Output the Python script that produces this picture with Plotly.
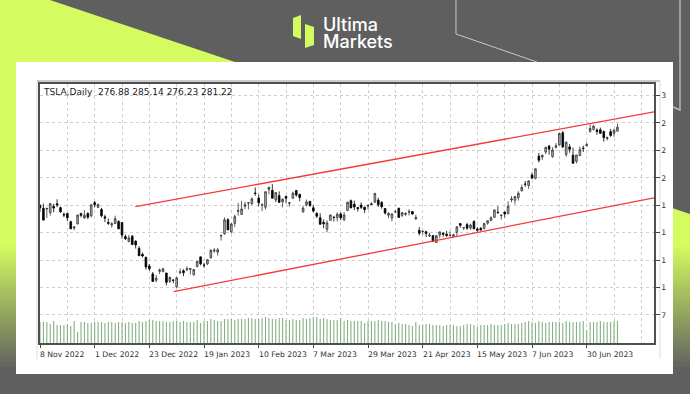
import numpy as np
import plotly.graph_objects as go

# --- data ---
opens = [194.02,190.78,189.9,186,192.77,195.88,191.51,183.96,185.05,175.85,168.63,173.57,185.06,179.96,184.99,182.43,
197.08,191.78,189.44,181.22,175.03,172.2,173.84,176.1,174.87,159.25,153.44,159.64,154,146.05,139.34,136,126.37,
117.5,110.35,120.39,119.95,118.47,109.11,110.51,103,118.96,121.07,122.09,122.56,116.55,125.7,136.56,127.26,
128.68,135.87,143,141.91,159.97,162.43,178.05,164.57,173.89,187.33,183.95,193.01,196.43,196.1,207.78,202.23,
194.42,191.94,211.76,210.78,199.99,204.99,197.93,203.91,196.33,202.03,210.59,206.21,186.74,194.8,198.54,191.38,
185.04,180.25,175.13,167.46,177.31,180.8,180.37,184.52,178.08,188.28,199.3,195.26,191.65,194.42,192,193.13,
195.58,197.53,199.91,197.32,190.52,183.08,179.94,186.69,190.74,182.96,183.95,186.32,187.15,179.1,166.17,164.8,
164.65,159.82,160.29,152.64,160.9,163.17,161.88,160.01,159.35,163.97,173.72,168.95,172.55,168.7,176.07,167.66,
168.41,168.41,174.22,177.17,180.7,186.2,182.56,186.54,184.62,200.1,199.78,202.59,210.15,217.8,216.14,228,224.22,
249.07,247.94,253.51,260.17,248.4,258.92,261.5,275.13,250.77,259.29,250.07,243.24,249.7,258.03,260.6,276.49,
278.82,278.09,278.43,276.47,268.65,276.33,274.59,276.88]
highs = [195.2,195.89,191,196.52,195.73,200.82,192.57,186.16,185.19,176.77,170.92,183.62,185.2,188.5,186.38,194.76,
198.92,196.25,191.27,183.65,179.38,175.2,182.5,177.37,175.05,161.62,160.93,160.99,155.25,148.47,141.26,136.63,128.62,
119.67,116.27,123.57,124.48,118.8,114.59,111.75,114.39,123.52,122.76,125.95,124.13,122.63,131.7,136.68,129.99,
133.51,145.38,146.5,146.41,161.42,180.68,179.77,174.3,183.81,196.75,199,198.17,197.5,203,214,206.2,
196.3,209.82,214.66,217.65,208.44,209.71,201.99,205.14,197.67,209.42,211.23,207.2,193.75,200.48,198.6,194.2,
186.5,185.18,178.29,177.35,183.8,182.34,186.22,186.22,186.44,198,200.66,199.31,192.36,197.39,192.35,195.29,
197.33,207.79,202.69,198.74,190.68,186.39,185.1,189.19,191.58,186.5,186.28,189.69,187.69,183.5,169.7,166,
165.65,163.47,160.67,160.48,165,163.28,165.49,165,162.52,170.79,173.8,169.82,174.43,173.57,177.38,169.76,
169.75,174.5,177.06,181.95,189.32,192.96,184.22,186.9,198.6,204.48,203.95,209.8,217.25,221.29,221.91,230.83,235.23,
252.42,250.97,259.68,261.57,258.95,263.6,274.75,276.99,265,262.45,258.37,250.39,259.88,260.74,264.45,284.25,
283.85,279.97,280.78,277.52,270.9,279.45,279.45,285.14]
lows = [186.75,177.12,180.03,182.59,186.34,192.06,185.66,180.9,176.55,167.54,166.19,172.5,180.63,179,178.75,180.63,
191.8,191.11,180.55,175.33,172.22,169.06,173.36,167.52,156.91,155.31,153.28,150.04,145.82,137.66,135.89,122.26,121.02,
108.76,108.24,117.5,119.75,104.64,107.52,107.16,101.81,117.11,114.92,120.51,117,115.6,125.02,127.01,124.31,
127.35,134.27,141.1,138.07,154.76,161.17,166.5,162.78,169.93,182.61,183.69,189.92,189.55,194.31,204.77,192.89,
187.61,189.44,206.11,201.84,197.5,197.22,191.78,196.33,192.8,201.26,203.75,198.52,186.01,192.88,192.3,186.1,
180,172.51,168.44,163.91,177.14,176.03,176.1,177.33,176.35,188.04,190.95,188.65,187.15,189.94,185.43,189.44,
194.42,197.2,192.2,190.32,183.76,179.74,176.11,185.65,180.31,180.94,182.01,182.69,183.58,177.65,160.56,161.32,
158.61,158.75,153.14,152.37,157.32,158.83,158.93,159.91,159.63,159.6,169.19,166.56,166.68,166.79,167.23,164.55,
166,167.19,172.45,176.31,180.11,185.26,178.22,180.58,184.53,197.53,195.12,199.37,209.75,214.52,212.53,223.2,223.01,
242.02,244.59,251.34,250.5,247.29,257.21,261.12,257.78,248.25,252.8,240.7,240.85,248.89,253.61,259.89,275.11,
277.6,272.88,273.77,265.1,266.37,270.6,270.6,276.23]
closes = [191.3,177.59,190.72,195.97,190.95,194.42,186.92,183.17,180.19,167.87,169.91,183.2,182.86,182.92,180.83,194.7,
194.86,194.86,182.45,179.82,174.04,173.44,179.05,167.82,160.95,156.8,157.67,150.23,149.87,137.8,137.57,125.35,123.15,
109.1,112.71,121.82,123.18,108.1,113.64,110.34,113.06,119.77,118.85,123.22,123.56,122.4,131.49,128.78,127.17,
133.42,143.75,143.89,144.43,160.27,177.9,166.66,173.22,181.41,188.27,189.98,194.76,196.81,201.29,207.32,196.89,
194.64,209.25,214.24,202.04,208.31,197.37,200.86,202.07,196.88,207.63,205.71,202.77,190.9,197.79,193.81,187.71,
182,172.92,173.44,174.48,183.26,180.45,184.13,180.13,183.25,197.58,191.15,192.22,190.41,191.81,189.19,193.88,
195.28,207.46,194.77,192.58,185.52,185.06,184.51,186.79,180.54,185.9,185,187.04,184.31,180.59,162.99,165.08,
162.55,160.67,153.75,160.19,164.31,161.83,160.31,160.61,161.2,170.06,171.79,169.15,168.54,172.08,167.98,166.35,
166.52,173.86,176.89,180.14,188.87,185.77,182.9,184.47,193.17,201.16,203.93,207.52,213.97,217.61,221.31,224.57,234.86,
244.4,249.83,258.71,256.79,255.9,260.54,274.45,259.46,264.61,256.6,241.05,250.21,256.24,257.5,261.77,279.82,
282.48,276.54,274.43,269.61,269.79,271.99,277.9,281.22]
volumes = [21,21,21,19,22,18,18,18,19,17,22,11,21,21,20,20,21,21,
21,20,21,21,20,21,21,20,21,20,20,22,21,22,23,23,22,22,22,21,21,22,
22,21,22,21,21,21,23,20,22,22,24,23,22,22,24,24,24,23,24,24,24,
25,25,24,24,25,26,25,24,24,25,25,23,23,24,23,23,25,24,25,26,
26,24,25,24,23,23,23,25,22,23,22,22,22,22,20,22,22,22,23,22,
22,21,21,19,20,19,19,18,17,21,18,18,19,19,18,18,18,17,18,18,
18,17,17,18,19,19,18,16,18,18,18,19,18,18,18,19,20,19,19,19,
20,21,22,21,20,22,21,20,21,21,21,21,20,22,21,21,21,21,22,13,
21,21,21,22,21,21,21,22,22]
tick_labels = ["8 Nov 2022","1 Dec 2022","23 Dec 2022","19 Jan 2023","10 Feb 2023","7 Mar 2023",
               "29 Mar 2023","21 Apr 2023","15 May 2023","7 Jun 2023","30 Jun 2023"]
price_ticks = [316.6,286,255.4,224.8,194.2,163.6,133,102.4,71.8]
price_labels = ["3","2","2","2","1","1","1","1","7"]
upper_x, upper_y = [27.9,179.7],[192.6,298.3]
lower_x, lower_y = [39.1,179.7],[97.7,202.3]
print(len(opens),len(highs),len(lows),len(closes),len(volumes))
n = len(closes)
x = list(range(n))
vx = x[:len(volumes)]

W,H = 690,394
L,R,T,B = 40,654,84,343
def px(v): return (v-L)/(R-L)
def py(v): return (B-v)/(B-T)
GRAY="#5f5f5f"; LIME="#d4fb60"
def poly(pts,col):
    d="M"+" L".join(f"{px(a):.5f},{py(b):.5f}" for a,b in pts)+" Z"
    return dict(type="path",path=d,xref="paper",yref="paper",fillcolor=col,line=dict(width=0),layer="below")
def seg(pts,col,w):
    d="M"+" L".join(f"{px(a):.5f},{py(b):.5f}" for a,b in pts)
    return dict(type="path",path=d,xref="paper",yref="paper",line=dict(color=col,width=w),layer="below")
shapes=[]
shapes.append(poly([(0,0),(50,0),(235,62),(235,70),(0,70)],LIME))
shapes.append(poly([(0,60),(17,60),(17,246),(0,246)],LIME))
shapes.append(poly([(672,208),(690,214),(690,246),(672,246)],LIME))
c0=np.array([0xd4,0xfb,0x60]); c1=np.array([0x5f,0x5f,0x5f])
for yy in range(244,372,3):
    t=min(1,(yy-244)/125)
    c=(c0+(c1-c0)*t).astype(int)
    col=f"rgb({c[0]},{c[1]},{c[2]})"
    shapes.append(poly([(0,yy),(17,yy),(17,yy+3.5),(0,yy+3.5)],col))
    shapes.append(poly([(672,yy),(690,yy),(690,yy+3.5),(672,yy+3.5)],col))
shapes.append(poly([(16,62),(673,62),(673,374),(16,374)],"#ffffff"))
shapes.append(seg([(456,0),(456,34),(537,62)],"#c8c8c8",1))
shapes.append(seg([(673,107),(680,110),(680,0)],"#b4b4b4",1.5))
shapes.append(seg([(37,359),(37,81),(660,81),(660,359)],"#dcdcdc",1))
shapes.append(seg([(37,81),(660,81)],"#a8a8a8",1.2))
shapes.append(poly([(293,18),(301,15),(301,39),(293,36)],LIME))
shapes.append(poly([(305,24),(314,27),(314,45),(305,48)],LIME))

fig=go.Figure()
fig.add_trace(go.Scatter(x=vx,y=[0]*len(vx),mode="none",yaxis="y2",showlegend=False,
    error_y=dict(type="data",symmetric=False,array=volumes,arrayminus=[0]*len(vx),width=0,thickness=1.1,color="#84b184")))
fig.add_trace(go.Candlestick(x=x,open=opens,high=highs,low=lows,close=closes,whiskerwidth=0,
    increasing=dict(line=dict(color="#333333",width=0.8),fillcolor="#b8b8b8"),
    decreasing=dict(line=dict(color="#000000",width=0.8),fillcolor="#000000"),showlegend=False))
red=dict(color="#f23a3a",width=1.3)
fig.add_trace(go.Scatter(x=upper_x,y=upper_y,mode="lines",line=red,showlegend=False,cliponaxis=False))
fig.add_trace(go.Scatter(x=lower_x,y=lower_y,mode="lines",line=red,showlegend=False,cliponaxis=False))

FONT="DejaVu Sans"; TC="#333333"; GRID="#cfcfcf"; DASH="3px,3px"
anns=[dict(x=i*16,y=0,xref="x",yref="paper",yshift=-5,xshift=-2,xanchor="left",yanchor="top",showarrow=False,
           text=t,font=dict(family=FONT,size=7.7,color=TC)) for i,t in enumerate(tick_labels)]
anns.append(dict(x=px(41),y=py(92),xref="paper",yref="paper",xanchor="left",yanchor="middle",showarrow=False,
    text="TSLA,Daily\u00a0\u00a0276.88 285.14 276.23 281.22",font=dict(family=FONT,size=9,color="#222222")))
anns.append(dict(x=px(320.5),y=py(24.5),xref="paper",yref="paper",xanchor="left",yanchor="middle",showarrow=False,
    text="Ultima",font=dict(family="Inter",size=18,color="#ffffff",weight=500)))
anns.append(dict(x=px(320.5),y=py(41),xref="paper",yref="paper",xanchor="left",yanchor="middle",showarrow=False,
    text="Markets",font=dict(family="Inter",size=18,color="#ffffff",weight=500)))

fig.update_layout(width=W,height=H,margin=dict(l=L,r=W-R,t=T,b=H-B,autoexpand=False),
    paper_bgcolor=GRAY,plot_bgcolor="rgba(0,0,0,0)",shapes=shapes,annotations=anns,
    boxgap=0.3,hovermode=False,
    xaxis=dict(range=[0,179.7],rangeslider=dict(visible=False),tickmode="array",
        tickvals=[i*16 for i in range(len(tick_labels))],ticktext=[""]*len(tick_labels),
        ticks="outside",ticklen=3,tickcolor="#444",showgrid=False,zeroline=False,
        minor=dict(tickmode="linear",tick0=0,dtick=8,showgrid=True,gridcolor=GRID,griddash=DASH,gridwidth=1,ticks=""),
        showline=True,linecolor="#505050",linewidth=1.5,mirror=True),
    yaxis=dict(range=[40.4,329.5],side="right",tickmode="array",tickvals=price_ticks,ticktext=price_labels,
        ticks="outside",ticklen=4,tickcolor="#444",showgrid=True,gridcolor=GRID,griddash=DASH,gridwidth=1,zeroline=False,
        tickfont=dict(family=FONT,size=7.7,color=TC),showline=True,linecolor="#505050",linewidth=1.5,mirror=True),
    yaxis2=dict(range=[0,259],overlaying="y",side="left",visible=False),
)
fig.write_html("out.html",config=dict(displayModeBar=False),post_script="document.body.style.margin='0';document.documentElement.style.overflow='hidden';")
